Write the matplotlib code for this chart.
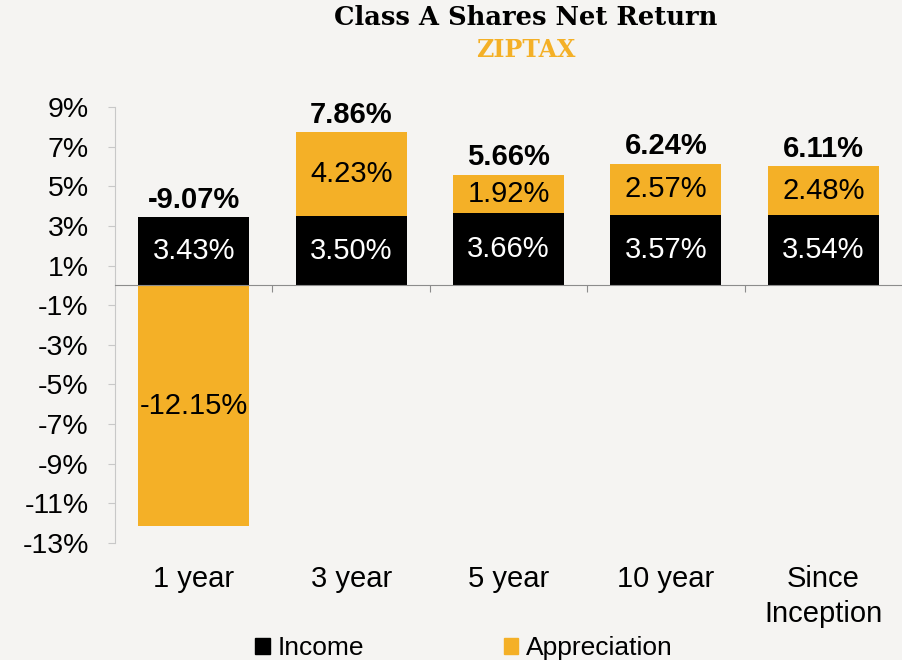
import numpy as np
import matplotlib
matplotlib.use("Agg")
from matplotlib import pyplot as plt
from matplotlib.patches import Patch

# data
categories = ["1 year", "3 year", "5 year", "10 year", "Since\nInception"]
income = [3.43, 3.50, 3.66, 3.57, 3.54]
appreciation = [-12.15, 4.23, 1.92, 2.57, 2.48]
totals = ["-9.07%", "7.86%", "5.66%", "6.24%", "6.11%"]
yticks = list(range(-13, 10, 2))

BG = "#f5f4f2"
ORANGE = "#f4b027"

plt.rcParams['font.family'] = ['Liberation Sans', 'DejaVu Sans']

fig = plt.figure(figsize=(9.03, 6.6), dpi=100, facecolor=BG)
ax = fig.add_axes([0.1274, 0.1773, 0.8716, 0.6606], facecolor=BG)

x = np.arange(len(categories))
w = 0.705
ax.bar(x, income, w, color="black", zorder=2)
# appreciation stacks on top of income when positive, hangs from zero when negative
bottoms = [inc if ap > 0 else 0 for inc, ap in zip(income, appreciation)]
ax.bar(x, appreciation, w, bottom=bottoms, color=ORANGE, zorder=2)

for i in x:
    ax.text(i, income[i] / 2, f"{income[i]:.2f}%", color="white",
            ha="center", va="center", fontsize=21)
    ap_mid = bottoms[i] + appreciation[i] / 2
    ax.text(i, ap_mid, f"{appreciation[i]:.2f}%", color="black",
            ha="center", va="center", fontsize=21)
    top = max(income[i], bottoms[i] + appreciation[i])
    ax.annotate(totals[i], (i, top), xytext=(0, 2.5), textcoords="offset points",
                ha="center", va="bottom", fontsize=21, fontweight="bold")
    ax.text(i, -0.05, categories[i], transform=ax.get_xaxis_transform(),
            ha="center", va="top", fontsize=21, linespacing=1.33)

ax.set_xlim(-0.5, len(categories) - 0.5)
ax.set_ylim(-13, 9)
ax.set_yticks(yticks)
ax.set_yticklabels([f"{t}%" for t in yticks], fontsize=20.5)
ax.set_xticks(x[:-1] + 0.5)
ax.set_xticklabels([])

ax.spines['top'].set_visible(False)
ax.spines['right'].set_visible(False)
ax.spines['bottom'].set_position(('data', 0))
ax.spines['bottom'].set_color("#8c8c8c")
ax.spines['left'].set_color("#c8c8c8")
ax.tick_params(axis='y', length=5, color="#c8c8c8", pad=14)
ax.tick_params(axis='x', length=5, color="#8c8c8c")

fig.text(0.582, 0.974, "Class A Shares Net Return", ha="center", va="center",
         fontsize=18.5, fontweight="bold", family=["DejaVu Serif"])
fig.text(0.582, 0.924, "ZIPTAX", ha="center", va="center", color=ORANGE,
         fontsize=17, fontweight="bold", family=["DejaVu Serif"])

handles = [Patch(color="black", label="Income"), Patch(color=ORANGE, label="Appreciation")]
fig.legend(handles=handles, loc="center", bbox_to_anchor=(0.514, 0.018), ncol=2,
           frameon=False, fontsize=19, handlelength=0.55, handleheight=0.55,
           handletextpad=0.3, columnspacing=5.3)

fig.savefig("out.png", dpi=100, facecolor=BG)
